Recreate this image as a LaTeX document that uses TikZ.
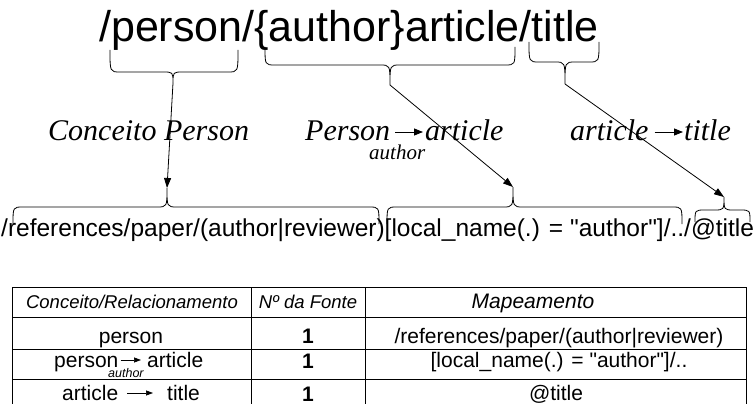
\documentclass[tikz,border=0pt]{standalone}
\usepackage{fontspec}
\setmainfont{Liberation Serif}
\newfontfamily\arial{Liberation Sans}
\usetikzlibrary{arrows.meta}

% curly brace: left x, tip x, right x, end y, bar y, tip y
\newcommand\curlybrace[6]{%
  \draw[bracepath] (#1,#4) .. controls (#1,#5) .. (#1+10,#5) -- (#2-10,#5)
    .. controls (#2,#5) .. (#2,#6)
    .. controls (#2,#5) .. (#2+10,#5) -- (#3-10,#5)
    .. controls (#3,#5) .. (#3,#4);}

\begin{document}
\begin{tikzpicture}[x=1pt,y=-1pt,
  xpathtxt/.style={font=\arial\fontsize{43}{47}\selectfont, inner sep=0, anchor=base west},
  pathtxt/.style={font=\arial\fontsize{24.5}{28}\selectfont, inner sep=0, anchor=base west},
  lbl/.style={font=\itshape\fontsize{30}{34}\selectfont, inner sep=0, anchor=base west},
  sublbl/.style={font=\itshape\fontsize{21}{23}\selectfont, inner sep=0, anchor=base west},
  bracepath/.style={line width=0.8pt},
  link/.style={line width=0.8pt, -{Triangle[length=10pt,width=7pt]}},
  lblarrow/.style={line width=0.8pt, -{Triangle[length=9pt,width=7pt]}},
  cellarrow/.style={line width=0.7pt, -{Triangle[length=7pt,width=5pt]}},
  gridline/.style={line width=0.8pt},
  hdr/.style={font=\arial\itshape\fontsize{18.5}{20}\selectfont, inner sep=0, anchor=base},
  cell/.style={font=\arial\fontsize{21}{24}\selectfont, inner sep=0, anchor=base},
  cellw/.style={cell, anchor=base west},
  subcell/.style={font=\arial\itshape\fontsize{12.5}{14}\selectfont, inner sep=0, anchor=base west},
  numcell/.style={cell, font=\arial\bfseries\fontsize{21}{24}\selectfont},
]
\useasboundingbox (0,0) rectangle (755,404);

% source expression
\node[xpathtxt] (xp) at (99,42) {/person/\{author\}article/title};

% braces under the source expression
\curlybrace{110}{173}{238}{50}{72}{83}
\curlybrace{265}{390}{515}{47}{65}{85}
\curlybrace{529}{565}{599}{42}{62}{84}
\coordinate (u1) at (173,83);
\coordinate (u2) at (390,85);
\coordinate (u3) at (565,84);

% concept labels
\node[lbl] (cp) at (48,140) {Conceito Person};
\node[lbl] (p2) at (305,140) {Person};
\node[lbl] (a2) at (425,140) {article};
\node[sublbl] (au) at (369,159) {author};
\node[lbl] (a3) at (570,140) {article};
\node[lbl] (t3) at (684,140) {title};
\draw[lblarrow] ([xshift=5pt,yshift=8pt]p2.base east) -- ([xshift=-2pt,yshift=8pt]a2.base west);
\draw[lblarrow] ([xshift=6pt,yshift=8pt]a3.base east) -- ([xshift=-1pt,yshift=8pt]t3.base west);

% target expression and its braces
\node[pathtxt] (lp) at (1,236) {/references/paper/(author|reviewer)[local\_name(.) = "author"]/../@title};
\curlybrace{13}{167}{379}{224}{207}{188}
\curlybrace{387}{513}{682}{224}{207}{187}
\curlybrace{695}{724}{750}{222}{210}{197}
\coordinate (l1) at (167,188);
\coordinate (l2) at (513,187);
\coordinate (l3) at (724,197);

% mapping links
\draw[link] (u1) -- (l1);
\draw[link] (u2) -- (l2);
\draw[link] (u3) -- (l3);

% table grid
\draw[gridline] (12,410) -- (12,287) -- (746,287) -- (746,410);
\foreach \yy in {317,349,379} \draw[gridline] (12,\yy) -- (746,\yy);
\foreach \xx in {251,365} \draw[gridline] (\xx,287) -- (\xx,410);

% header
\node[hdr] (h1) at (132,308) {Conceito/Relacionamento};
\node[hdr] (h2) at (308,308) {Nº da Fonte};
\node[hdr, font=\arial\itshape\fontsize{21}{23}\selectfont] (h3) at (533,308) {Mapeamento};

% row 1
\node[cell] (r1c) at (131,343) {person};
\node[numcell] (r1n) at (308,343) {1};
\node[cell] (r1m) at (559,343) {/references/paper/(author|reviewer)};

% row 2
\node[cellw] (r2p) at (54,367) {person};
\node[cellw] (r2a) at (147,367) {article};
\node[subcell] (r2s) at (108,377) {author};
\draw[cellarrow] ([xshift=2pt,yshift=7pt]r2p.base east) -- ([xshift=-6pt,yshift=7pt]r2a.base west);
\node[numcell] (r2n) at (308,368) {1};
\node[cell] (r2m) at (559,367) {[local\_name(.) = "author"]/..};

% row 3
\node[cellw] (r3a) at (62,400) {article};
\node[cellw] (r3t) at (167,400) {title};
\draw[cellarrow] ([xshift=9pt,yshift=7pt]r3a.base east) -- ([xshift=-14pt,yshift=7pt]r3t.base west);
\node[numcell] (r3n) at (308,401) {1};
\node[cell] (r3m) at (556,400) {@title};
\end{tikzpicture}
\end{document}
